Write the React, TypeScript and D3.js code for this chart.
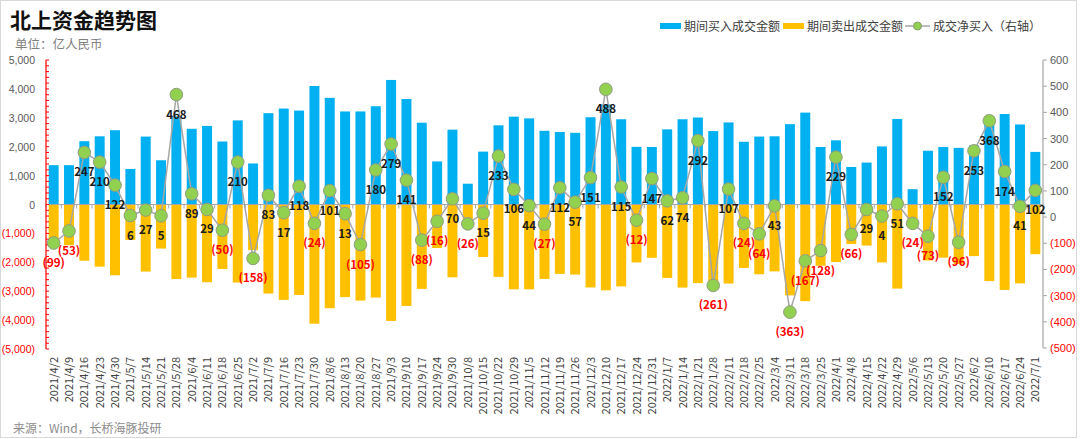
import React from 'react';
import * as d3 from 'd3';

// weekly periods
const dates = [
  '2021/4/2', '2021/4/9', '2021/4/16', '2021/4/23', '2021/4/30', '2021/5/7', '2021/5/14', '2021/5/21', '2021/5/28',
  '2021/6/4', '2021/6/11', '2021/6/18', '2021/6/25', '2021/7/2', '2021/7/9', '2021/7/16', '2021/7/23', '2021/7/30',
  '2021/8/6', '2021/8/13', '2021/8/20', '2021/8/27', '2021/9/3', '2021/9/10', '2021/9/17', '2021/9/24', '2021/9/30',
  '2021/10/8', '2021/10/15', '2021/10/22', '2021/10/29', '2021/11/5', '2021/11/12', '2021/11/19', '2021/11/26',
  '2021/12/3', '2021/12/10', '2021/12/17', '2021/12/24', '2021/12/31', '2022/1/7', '2022/1/14', '2022/1/21', '2022/1/28',
  '2022/2/11', '2022/2/18', '2022/2/25', '2022/3/4', '2022/3/11', '2022/3/18', '2022/3/25', '2022/4/1', '2022/4/8',
  '2022/4/15', '2022/4/22', '2022/4/29', '2022/5/6', '2022/5/13', '2022/5/20', '2022/5/27', '2022/6/2', '2022/6/10',
  '2022/6/17', '2022/6/24', '2022/7/1',
];

// 期间买入成交金额 (亿)
const buyValues = [
  1360, 1360, 2190, 2360, 2570, 1230, 2350, 1530, 3050,
  2620, 2720, 2180, 2910, 1420, 3160, 3320, 3250, 4100,
  3690, 3220, 3220, 3400, 4310, 3650, 2830, 1490, 2590,
  720, 1830, 2740, 3040, 2980, 2550, 2510, 2480,
  3020, 3460, 2950, 1995, 1990, 2600, 2950, 3010, 2540,
  2840, 2170, 2350, 2360, 2780, 3180, 1990, 2220, 1300,
  1450, 2010, 2960, 530, 1860, 1990, 1960, 2040, 3020,
  3130, 2770, 1820,
];

// 期间卖出成交金额 (亿)
const sellValues = [
  1460, 1410, 1945, 2150, 2450, 1225, 2320, 1525, 2580,
  2530, 2690, 2230, 2700, 1580, 3080, 3300, 3130, 4125,
  3590, 3205, 3325, 3220, 4030, 3510, 2920, 1505, 2520,
  745, 1815, 2505, 2935, 2935, 2575, 2400, 2425,
  2870, 2970, 2835, 2005, 1845, 2540, 2875, 2720, 2800,
  2735, 2195, 2415, 2315, 3145, 3345, 2120, 1990, 1365,
  1420, 2005, 2910, 555, 1935, 1840, 2055, 1785, 2650,
  2955, 2730, 1720,
];

// 成交净买入 (右轴, 亿)
const netValues = [
  -99, -53, 247, 210, 122, 6, 27, 5, 468,
  89, 29, -50, 210, -158, 83, 17, 118, -24,
  101, 13, -105, 180, 279, 141, -88, -16, 70,
  -26, 15, 233, 106, 44, -27, 112, 57,
  151, 488, 115, -12, 147, 62, 74, 292, -261,
  107, -24, -64, 43, -363, -167, -128, 229, -66,
  29, 4, 51, -24, -73, 152, -96, 253, 368,
  174, 41, 102,
];

const leftTicks = [5000, 4000, 3000, 2000, 1000, 0, -1000, -2000, -3000, -4000, -5000];
const rightTicks = [600, 500, 400, 300, 200, 100, 0, -100, -200, -300, -400, -500];

const W = 1080;
const H = 439;
const BLUE = '#00B0F0';
const ORANGE = '#FFC000';
const GREEN = '#92D050';
const RED = '#FF0000';
const FONT = '"Noto Sans CJK SC", "Noto Sans", sans-serif';
const NUMFONT = '"Liberation Sans", Arial, sans-serif';

const fmt = (v: number) => (v < 0 ? `(${d3.format(',')(-v)})` : d3.format(',')(v));

export default function App() {
  const x = d3.scaleBand<string>().domain(dates).range([46, 1043]).paddingInner(0.35).paddingOuter(0.175);
  const yL = d3.scaleLinear().domain([-5000, 5000]).range([349, 60]);
  const yR = d3.scaleLinear().domain([-500, 600]).range([348, 60]);
  const cx = (d: string) => (x(d) as number) + x.bandwidth() / 2;

  const line = d3
    .line<number>()
    .x((_, i) => cx(dates[i]))
    .y((d) => yR(d));

  const minorTicks = d3.range(-5000, 5001, 200);
  const y0 = yL(0);

  return (
    <div style={{ position: 'fixed', left: 0, top: 0 }}>
      <svg width={W} height={H} style={{ display: 'block', background: '#fff' }} fontFamily={FONT}>
        <rect x={0.5} y={0.5} width={W - 4} height={H - 2} fill="#fff" stroke="#d9d9d9" />

        {/* title */}
        <text x={10} y={28} fontSize={21} fontWeight="bold" fill="#111">北上资金趋势图</text>
        <text x={15} y={49} fontSize={12.5} fill="#7f7f7f">单位：亿人民币</text>

        {/* legend */}
        <g fontSize={12} fill="#404040">
          <rect x={660} y={23} width={21} height={6} fill={BLUE} />
          <text x={684} y={31}>期间买入成交金额</text>
          <rect x={783} y={23} width={21} height={6} fill={ORANGE} />
          <text x={807} y={31}>期间卖出成交金额</text>
          <line x1={905} x2={930} y1={26} y2={26} stroke="#a6a6a6" strokeWidth={1.5} />
          <circle cx={917.5} cy={26} r={4} fill={GREEN} stroke="#8a9a78" />
          <text x={933} y={31}>成交净买入（右轴）</text>
        </g>

        {/* bars */}
        {dates.map((d, i) => (
          <g key={d}>
            <rect x={x(d)} y={yL(buyValues[i])} width={x.bandwidth()} height={y0 - yL(buyValues[i])} fill={BLUE} />
            <rect x={x(d)} y={y0} width={x.bandwidth()} height={yL(-sellValues[i]) - y0} fill={ORANGE} />
          </g>
        ))}

        {/* zero line with category ticks */}
        <line x1={46} x2={1043} y1={y0} y2={y0} stroke="#a6a6a6" strokeWidth={1.2} />
        {dates.map((d) => (
          <line key={'t' + d} x1={(x(d) as number) - (x.step() * 0.35) / 2} x2={(x(d) as number) - (x.step() * 0.35) / 2}
            y1={y0} y2={y0 + 4} stroke="#a6a6a6" />
        ))}

        {/* left axis */}
        <line x1={46} x2={46} y1={yL(5000)} y2={yL(-5000)} stroke={RED} strokeWidth={1.2} />
        {minorTicks.map((t) => (
          <line key={'m' + t} x1={46} x2={49} y1={yL(t)} y2={yL(t)} stroke={RED} />
        ))}
        {leftTicks.map((t) => (
          <text key={'l' + t} x={35} y={yL(t) + 4} textAnchor="end" fontSize={10.5} fontFamily={NUMFONT}
            fill={t < 0 ? RED : '#595959'}>
            {fmt(t)}
          </text>
        ))}

        {/* right axis */}
        <line x1={1043} x2={1043} y1={yR(600)} y2={yR(-500)} stroke="#a6a6a6" strokeWidth={1.2} />
        {rightTicks.map((t) => (
          <g key={'r' + t}>
            <line x1={1043} x2={1047} y1={yR(t)} y2={yR(t)} stroke="#a6a6a6" />
            <text x={1050} y={yR(t) + 4} fontSize={11} fontFamily={NUMFONT} fill={t < 0 ? RED : '#595959'}>{fmt(t)}</text>
          </g>
        ))}

        {/* x labels */}
        {dates.map((d) => (
          <text key={'x' + d} transform={`translate(${cx(d) + 4},357) rotate(-90)`} textAnchor="end" fontSize={11} fill="#404040">
            {d}
          </text>
        ))}

        {/* net line */}
        <path d={line(netValues) || ''} fill="none" stroke="#a6a6a6" strokeWidth={1.5} />
        {netValues.map((v, i) => (
          <circle key={'c' + i} cx={cx(dates[i])} cy={yR(v)} r={6.3} fill={GREEN} stroke="#8f9c80" strokeWidth={1} />
        ))}
        {netValues.map((v, i) => (
          <text key={'v' + i} x={cx(dates[i])} y={yR(v) + 24} textAnchor="middle" fontSize={11.5} fontWeight="bold"
            fill={v < 0 ? RED : '#1a1a1a'}>
            {fmt(v)}
          </text>
        ))}

        <text x={13} y={433} fontSize={12} fill="#8c8c8c">来源：Wind，长桥海豚投研</text>
      </svg>
    </div>
  );
}
